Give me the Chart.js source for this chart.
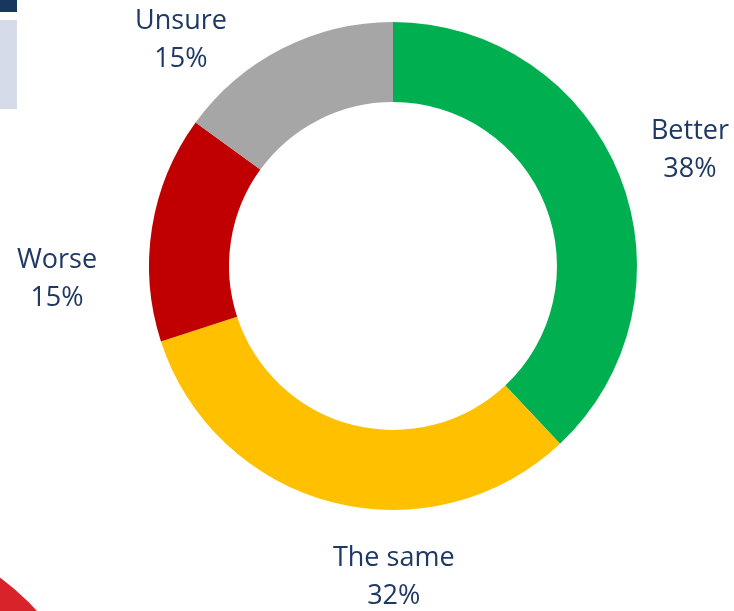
<!DOCTYPE html>
<html>
<head>
<meta charset="utf-8">
<script src="https://cdn.jsdelivr.net/npm/chart.js@4"></script>
<style>
  html, body { margin: 0; padding: 0; background: #ffffff; overflow: hidden; }
  #wrap { position: relative; width: 734px; height: 611px; }
  #grafico { position: absolute; left: 0; top: 0; }
  .barra { position: absolute; left: 0; top: 0; width: 17px; height: 12px; background: #17375e; }
  .caixa { position: absolute; left: 0; top: 20px; width: 17px; height: 89px; background: #d5dbe9; }
  .mancha { position: absolute; left: -402px; top: 528px; width: 504px; height: 504px; border-radius: 50%; background: #d9232b; }
</style>
</head>
<body>
<div id="wrap">
  <div class="barra"></div>
  <div class="caixa"></div>
  <div class="mancha"></div>
  <canvas id="grafico" width="734" height="611"></canvas>
</div>
<script>
// respostas da pesquisa (%)
let categorias = ["Better", "The same", "Worse", "Unsure"];
let valores = [38, 32, 15, 15];
let cores = ["#00b050", "#ffc000", "#c00000", "#a6a6a6"];

// posição de cada rótulo em relação ao centro, em múltiplos do raio externo
let posRotulos = [
    [1.217, -0.475],
    [0.003, 1.275],
    [-1.377, 0.055],
    [-0.869, -0.925]
];

const rotulosPlugin = {
    id: "rotulos",
    afterDatasetsDraw(chart) {
        let ctx = chart.ctx;
        let meta = chart.getDatasetMeta(0);
        let total = valores.reduce((a, b) => a + b, 0);
        ctx.save();
        ctx.font = "27px 'Open Sans'";
        ctx.fillStyle = "#1f3864";
        ctx.textAlign = "center";
        ctx.textBaseline = "middle";
        meta.data.forEach((arco, i) => {
            let r = arco.outerRadius;
            let x = arco.x + posRotulos[i][0] * r;
            let y = arco.y + posRotulos[i][1] * r;
            let pct = Math.round(valores[i] / total * 100) + "%";
            ctx.fillText(categorias[i], x, y - 19);
            ctx.fillText(pct, x, y + 19);
        });
        ctx.restore();
    }
};

let ctx = document.getElementById("grafico").getContext("2d");
new Chart(ctx, {
    type: "doughnut",
    data: {
        labels: categorias,
        datasets: [{
            data: valores,
            backgroundColor: cores,
            borderWidth: 0
        }]
    },
    options: {
        responsive: false,
        animation: false,
        cutout: "67.2%",
        layout: {
            padding: { top: 22, bottom: 101, left: 149, right: 97 }
        },
        plugins: {
            legend: { display: false },
            tooltip: { enabled: false }
        }
    },
    plugins: [rotulosPlugin]
});
</script>
</body>
</html>
